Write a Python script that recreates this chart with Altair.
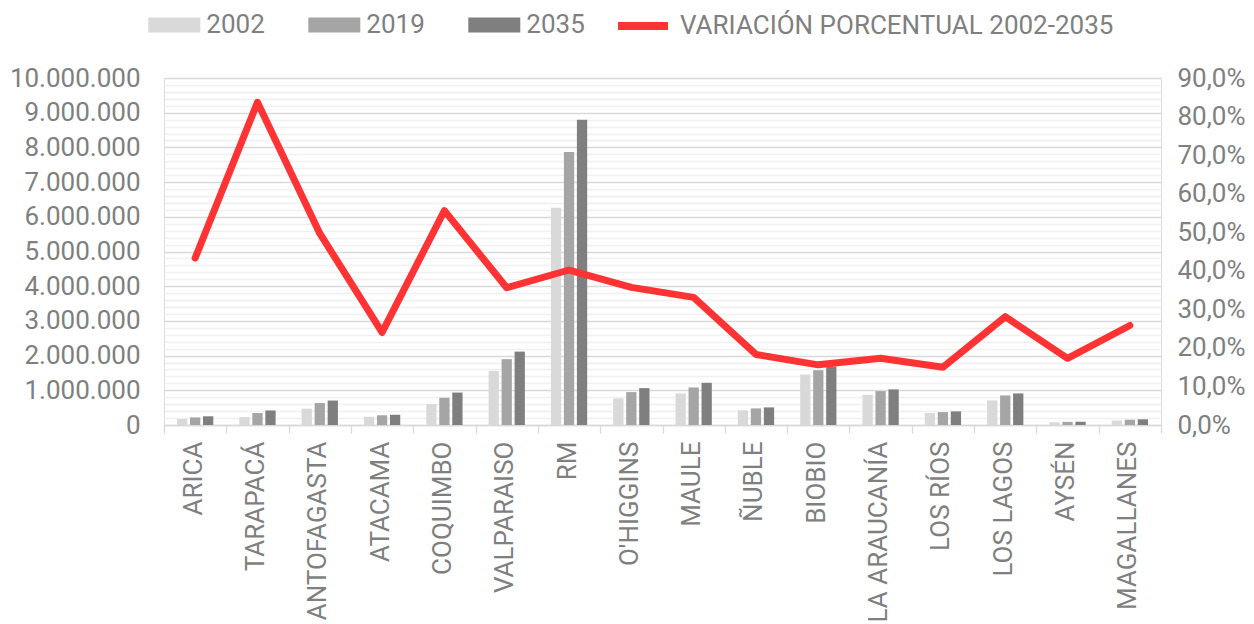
import altair as alt
import pandas as pd

regions = ["ARICA", "TARAPACÁ", "ANTOFAGASTA", "ATACAMA", "COQUIMBO", "VALPARAISO", "RM",
           "O'HIGGINS", "MAULE", "ÑUBLE", "BIOBIO", "LA ARAUCANÍA", "LOS RÍOS", "LOS LAGOS",
           "AYSÉN", "MAGALLANES"]
years = ["2002", "2019", "2035"]
pop_2002 = [175000, 228000, 470000, 238000, 600000, 1560000, 6260000, 766000, 910000, 422000,
            1456000, 871000, 345000, 709000, 80000, 130000]
pop_2019 = [218000, 345000, 632000, 280000, 785000, 1897000, 7870000, 948000, 1082000, 479000,
            1580000, 977000, 373000, 852000, 90000, 152000]
pop_2035 = [251000, 419000, 705000, 295000, 935000, 2115000, 8800000, 1063000, 1216000, 507000,
            1685000, 1025000, 392000, 910000, 94000, 164000]
variation = [0.433, 0.837, 0.497, 0.240, 0.556, 0.356, 0.402, 0.357, 0.331, 0.183, 0.156,
             0.173, 0.150, 0.281, 0.173, 0.258]
bar_colors = ["#D9D9D9", "#A5A5A5", "#7F7F7F"]
line_label = "VARIACIÓN PORCENTUAL 2002-2035"
line_color = "#FF3333"
left_ticks = list(range(0, 10000001, 200000))
right_ticks = [0, 0.1, 0.2, 0.3, 0.4, 0.5, 0.6, 0.7, 0.8, 0.9]

rows = []
for i, r in enumerate(regions):
    for y, vals in zip(years, [pop_2002, pop_2019, pop_2035]):
        rows.append({"region": r, "year": y, "pop": vals[i]})
bar_df = pd.DataFrame(rows)
line_df = pd.DataFrame({"region": regions, "var": variation, "serie": [line_label] * len(regions)})

TXT = "#7F7F7F"
FONT = "Roboto"
FS = 26

x_enc = alt.X(
    "region:N", sort=regions,
    scale=alt.Scale(paddingInner=0, paddingOuter=0),
    axis=alt.Axis(title=None, labelAngle=-90, labelPadding=8, tickBand="extent",
                  tickSize=8, tickColor="#D9D9D9", tickWidth=1.3,
                  domainColor="#D9D9D9", domainWidth=1.3, grid=False, labelLimit=1000,
                  labelFontSize=FS, labelColor=TXT, labelFont=FONT, labelOffset=-2),
)

rect_path = "M-1,-0.29L1,-0.29L1,0.29L-1,0.29Z"

bars = alt.Chart(bar_df).mark_bar().encode(
    x=x_enc,
    xOffset=alt.XOffset("year:N", sort=years,
                        scale=alt.Scale(paddingInner=0.21, paddingOuter=1)),
    y=alt.Y("pop:Q", scale=alt.Scale(domain=[0, 10000000], nice=False),
            axis=alt.Axis(title=None, values=left_ticks, domain=False, ticks=False, tickSize=0,
                          labelPadding=24, labelOverlap=False, labelFlush=False,
                          labelExpr="datum.value % 1000000 === 0 ? join(split(format(datum.value, ','), ','), '.') : ''",
                          gridColor={"condition": {"test": "datum.value % 1000000 === 0", "value": "#D9D9D9"},
                                     "value": "#F0F0F0"},
                          gridWidth=1.3,
                          labelFontSize=FS, labelColor=TXT, labelFont=FONT)),
    color=alt.Color("year:N", scale=alt.Scale(domain=years, range=bar_colors),
                    legend=alt.Legend(title=None, orient="none", direction="horizontal",
                                      legendX=-15.7, legendY=-79, symbolType=rect_path,
                                      symbolSize=2704, symbolStrokeWidth=0, labelOffset=6,
                                      columnPadding=43, padding=0, labelLimit=1000,
                                      labelFontSize=FS, labelColor=TXT, labelFont=FONT)),
)

line = alt.Chart(line_df).mark_line(strokeWidth=7, strokeCap="round", strokeJoin="round").encode(
    x=x_enc,
    y=alt.Y("var:Q", scale=alt.Scale(domain=[0, 0.9], nice=False),
            axis=alt.Axis(title=None, orient="right", values=right_ticks, domain=False,
                          ticks=False, tickSize=0, grid=False, labelPadding=16,
                          labelOverlap=False, labelFlush=False, labelAlign="left",
                          labelExpr="replace(format(datum.value, '.1%'), '.', ',')",
                          labelFontSize=FS, labelColor=TXT, labelFont=FONT)),
    stroke=alt.Stroke("serie:N", scale=alt.Scale(domain=[line_label], range=[line_color]),
                      legend=alt.Legend(title=None, orient="none", direction="horizontal",
                                        legendX=450, legendY=-81, symbolType="stroke",
                                        symbolSize=2500, symbolStrokeWidth=8, labelOffset=8,
                                        padding=0, labelLimit=1000,
                                        labelFontSize=FS, labelColor=TXT, labelFont=FONT)),
)

chart = alt.layer(bars, line).resolve_scale(y="independent").properties(
    width=997, height=347,
    autosize=alt.AutoSizeParams(type="none"),
    padding={"left": 156, "top": 70, "right": 84, "bottom": 199},
).configure_view(stroke=None).configure(font=FONT)

chart.save("out.html", embed_options={"renderer": "svg", "actions": False})
